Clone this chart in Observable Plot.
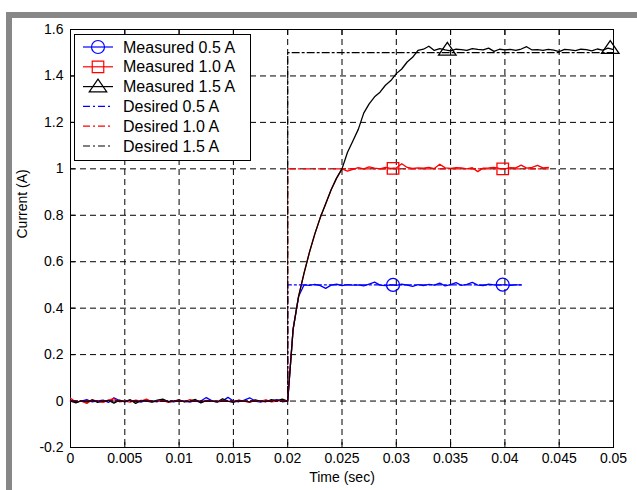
<!DOCTYPE html>
<html>
<head>
<meta charset="utf-8">
<script src="https://cdn.jsdelivr.net/npm/d3@7"></script>
<script src="https://cdn.jsdelivr.net/npm/@observablehq/plot@0.6"></script>
<style>
  html, body { margin: 0; padding: 0; background: #fff; }
  #wrap { position: relative; width: 637px; height: 490px; overflow: hidden; font-family: "Liberation Sans", Arial, sans-serif; }
  .bar { position: absolute; background: #878787; z-index: 5; }
  #legend { position: absolute; left: 74px; top: 34px; z-index: 4; }
</style>
</head>
<body>
<div id="wrap">
  <div class="bar" style="left:6px;top:12px;width:631px;height:6px;"></div>
  <div class="bar" style="left:6px;top:12px;width:6px;height:478px;"></div>
</div>
<script>
// ---------- data ----------
const time = [
  0.0000,0.0005,0.0010,0.0015,0.0020,0.0025,0.0030,0.0035,0.0040,0.0045,
  0.0050,0.0055,0.0060,0.0065,0.0070,0.0075,0.0080,0.0085,0.0090,0.0095,
  0.0100,0.0105,0.0110,0.0115,0.0120,0.0125,0.0130,0.0135,0.0140,0.0145,
  0.0150,0.0155,0.0160,0.0165,0.0170,0.0175,0.0180,0.0185,0.0190,0.0195,
  0.0200,0.0205,0.0210,0.0215,0.0220,0.0225,0.0230,0.0235,0.0240,0.0245,
  0.0250,0.0255,0.0260,0.0265,0.0270,0.0275,0.0280,0.0285,0.0290,0.0295,
  0.0300,0.0305,0.0310,0.0315,0.0320,0.0325,0.0330,0.0335,0.0340,0.0345,
  0.0350,0.0355,0.0360,0.0365,0.0370,0.0375,0.0380,0.0385,0.0390,0.0395,
  0.0400,0.0405,0.0410,0.0415,0.0420,0.0425,0.0430,0.0435,0.0440,0.0445,
  0.0450,0.0455,0.0460,0.0465,0.0470,0.0475,0.0480,0.0485,0.0490,0.0495,
  0.0500
];
const measured05 = [
  0.004,-0.005,0.000,0.006,-0.004,0.001,0.004,-0.006,0.014,0.002,
  -0.004,0.003,0.000,-0.005,0.004,0.000,-0.003,0.005,0.000,-0.004,
  0.002,0.000,-0.005,0.003,0.000,0.015,0.002,-0.004,0.000,0.016,
  0.000,-0.003,0.004,0.014,0.000,-0.005,0.003,0.000,0.006,-0.003,
  0.000,0.310,0.450,0.500,0.498,0.502,0.497,0.485,0.499,0.503,
  0.497,0.501,0.499,0.500,0.496,0.504,0.512,0.499,0.497,0.500,
  0.498,0.503,0.499,0.494,0.501,0.497,0.502,0.499,0.508,0.496,
  0.501,0.510,0.498,0.502,0.511,0.499,0.497,0.503,0.500,0.499,
  0.501,0.498,0.500,0.500
];
const measured10 = [
  0.012,-0.004,0.000,-0.010,0.005,0.000,-0.006,0.004,0.010,-0.003,
  0.000,-0.005,0.004,0.000,0.008,-0.004,0.000,0.003,-0.006,0.000,
  0.004,-0.003,0.006,0.000,-0.005,0.003,0.000,-0.004,0.005,0.000,
  -0.003,0.004,0.000,-0.006,0.003,0.000,0.005,-0.004,0.000,0.003,
  0.000,0.310,0.450,0.550,0.640,0.720,0.790,0.850,0.910,0.960,
  1.000,0.990,0.998,1.005,1.000,1.008,1.003,1.000,1.006,1.002,
  1.004,1.022,1.006,1.002,1.004,1.003,1.006,1.001,1.020,1.004,
  1.002,1.005,1.004,1.000,1.005,0.988,1.003,1.004,1.006,1.002,
  1.000,1.005,1.004,1.016,1.003,1.006,1.015,1.004,1.006
];
const measured15 = [
  0.000,-0.008,0.002,-0.004,0.005,-0.006,0.000,0.003,-0.009,0.004,
  -0.002,0.006,-0.010,0.003,0.000,-0.005,0.004,0.008,-0.003,0.000,
  0.005,-0.004,0.000,0.007,-0.008,0.002,0.000,-0.004,0.010,0.000,
  -0.006,0.003,0.000,-0.004,0.005,0.000,-0.003,0.006,0.002,0.008,
  0.000,0.310,0.450,0.550,0.640,0.720,0.790,0.850,0.910,0.960,
  1.000,1.070,1.120,1.170,1.240,1.280,1.310,1.330,1.360,1.380,
  1.410,1.430,1.460,1.480,1.510,1.515,1.528,1.510,1.518,1.512,
  1.508,1.515,1.513,1.510,1.518,1.514,1.512,1.520,1.506,1.515,
  1.512,1.514,1.510,1.516,1.526,1.512,1.513,1.510,1.514,1.511,
  1.505,1.514,1.512,1.509,1.515,1.513,1.508,1.516,1.511,1.520,
  1.513
];
const seriesNames = ["0.5 A", "1.0 A", "1.5 A"];
const seriesColors = ["#0000ff", "#ff0000", "#000000"];
const seriesSymbols = ["circle", "square", "triangle"];
const desiredLevels = [0.5, 1.0, 1.5];
const desiredStepTime = 0.02;
const desiredEndTimes = [0.0415, 0.044, 0.05];
const markerTimes = [[0.0297, 0.0398], [0.0297, 0.0398], [0.0347, 0.0497]];

const xTicks = [0, 0.005, 0.01, 0.015, 0.02, 0.025, 0.03, 0.035, 0.04, 0.045, 0.05];
const xTickLabels = ["0", "0.005", "0.01", "0.015", "0.02", "0.025", "0.03", "0.035", "0.04", "0.045", "0.05"];
const yTicks = [-0.2, 0, 0.2, 0.4, 0.6, 0.8, 1, 1.2, 1.4, 1.6];
const yTickLabels = ["-0.2", "0", "0.2", "0.4", "0.6", "0.8", "1", "1.2", "1.4", "1.6"];
const xLabel = "Time (sec)";
const yLabel = "Current (A)";

// ---------- build tables ----------
const measuredValues = [measured05, measured10, measured15];
const measuredRows = measuredValues.flatMap((vals, s) =>
  vals.map((v, i) => ({t: time[i], v, s})));
const desiredRows = desiredLevels.flatMap((lvl, s) => [
  {t: time[0], v: 0, s}, {t: desiredStepTime, v: 0, s},
  {t: desiredStepTime, v: lvl, s}, {t: desiredEndTimes[s], v: lvl, s}
]);
const markerRows = markerTimes.flatMap((ts, s) => ts.map(t => {
  const vals = measuredValues[s];
  const i = d3.minIndex(vals, (v, k) => Math.abs(time[k] - t));
  return {t, v: vals[i], s};
}));

// MATLAB-like wide triangle marker
const wideTriangle = {
  draw(ctx, size) {
    const r = Math.sqrt(size / Math.PI);
    ctx.moveTo(0, -r * 1.15);
    ctx.lineTo(r * 1.35, r * 0.8);
    ctx.lineTo(-r * 1.35, r * 0.8);
    ctx.closePath();
  }
};
const symbolFor = s => seriesSymbols[s] === "triangle" ? wideTriangle : seriesSymbols[s];

const xFmt = d => xTickLabels[xTicks.findIndex(t => Math.abs(t - d) < 1e-9)];
const yFmt = d => yTickLabels[yTicks.findIndex(t => Math.abs(t - d) < 1e-9)];
const gridStyle = {stroke: "#000", strokeOpacity: 1, strokeWidth: 1, strokeDasharray: "6,4"};

const marks = [
  Plot.gridX(xTicks.slice(1, -1), gridStyle),
  Plot.gridY(yTicks.slice(1, -1), gridStyle),
  Plot.axisX(xTicks, {tickSize: -5, tickPadding: 11, tickFormat: xFmt, label: null, fontSize: 14}),
  Plot.axisX(xTicks, {anchor: "top", tickSize: -5, tickFormat: () => "", label: null}),
  Plot.axisY(yTicks, {tickSize: -5, tickPadding: 12, tickFormat: yFmt, label: null, fontSize: 14}),
  Plot.axisY(yTicks, {anchor: "right", tickSize: -5, tickFormat: () => "", label: null}),
  Plot.frame({stroke: "#000", strokeWidth: 1})
];
[0, 1, 2].forEach(s => {
  marks.push(Plot.line(measuredRows.filter(d => d.s === s), {x: "t", y: "v", stroke: seriesColors[s], strokeWidth: 1.3}));
});
[0, 1, 2].forEach(s => {
  marks.push(Plot.line(desiredRows.filter(d => d.s === s), {x: "t", y: "v", stroke: seriesColors[s], strokeWidth: 1.2, strokeDasharray: "7,3,2,3"}));
});
[0, 1, 2].forEach(s => {
  marks.push(Plot.dot(markerRows.filter(d => d.s === s), {x: "t", y: "v", stroke: seriesColors[s], fill: "none", r: 6.5, strokeWidth: 1.3, symbol: symbolFor(s)}));
});
marks.push(Plot.text([xLabel], {text: d => d, frameAnchor: "bottom", dy: 30, fontSize: 14, lineAnchor: "middle"}));
marks.push(Plot.text([yLabel], {text: d => d, frameAnchor: "left", dx: -48, rotate: -90, fontSize: 14, lineAnchor: "middle"}));

const chart = Plot.plot({
  width: 637, height: 490,
  marginLeft: 70, marginRight: 24, marginTop: 29, marginBottom: 43,
  x: {domain: [0, 0.05]},
  y: {domain: [-0.2, 1.6]},
  style: {fontFamily: "'Liberation Sans', Arial, sans-serif", fontSize: "14px", color: "#000", background: "#fff"},
  marks
});
document.getElementById("wrap").appendChild(chart);

// ---------- legend ----------
const legendItems = [
  ...seriesNames.map((n, s) => ({label: "Measured " + n, s, kind: "measured"})),
  ...seriesNames.map((n, s) => ({label: "Desired " + n, s, kind: "desired"}))
];
const lw = 177, lh = 127;
const leg = d3.create("svg").attr("id", "legend").attr("width", lw).attr("height", lh)
  .style("font-family", "'Liberation Sans', Arial, sans-serif");
leg.append("rect").attr("x", 0.5).attr("y", 0.5).attr("width", lw - 1).attr("height", lh - 1)
  .attr("fill", "#fff").attr("stroke", "#000");
legendItems.forEach((it, i) => {
  const cy = 13 + i * 19.8;
  const g = leg.append("g").attr("transform", `translate(0,${cy})`);
  g.append("line").attr("x1", 9).attr("x2", 39).attr("y1", 0).attr("y2", 0)
    .attr("stroke", seriesColors[it.s]).attr("stroke-width", 1.2)
    .attr("stroke-dasharray", it.kind === "desired" ? "7,3,2,3" : null);
  if (it.kind === "measured") {
    const sym = seriesSymbols[it.s] === "triangle" ? wideTriangle
      : seriesSymbols[it.s] === "square" ? d3.symbolSquare : d3.symbolCircle;
    g.append("path").attr("transform", "translate(24,0)")
      .attr("d", d3.symbol(sym, Math.PI * 6.5 * 6.5)())
      .attr("fill", "none").attr("stroke", seriesColors[it.s]).attr("stroke-width", 1.2);
  }
  g.append("text").attr("x", 49).attr("y", 0).attr("dy", "0.35em")
    .attr("font-size", 16).attr("fill", "#000").text(it.label);
});
document.getElementById("wrap").appendChild(leg.node());
</script>
</body>
</html>
